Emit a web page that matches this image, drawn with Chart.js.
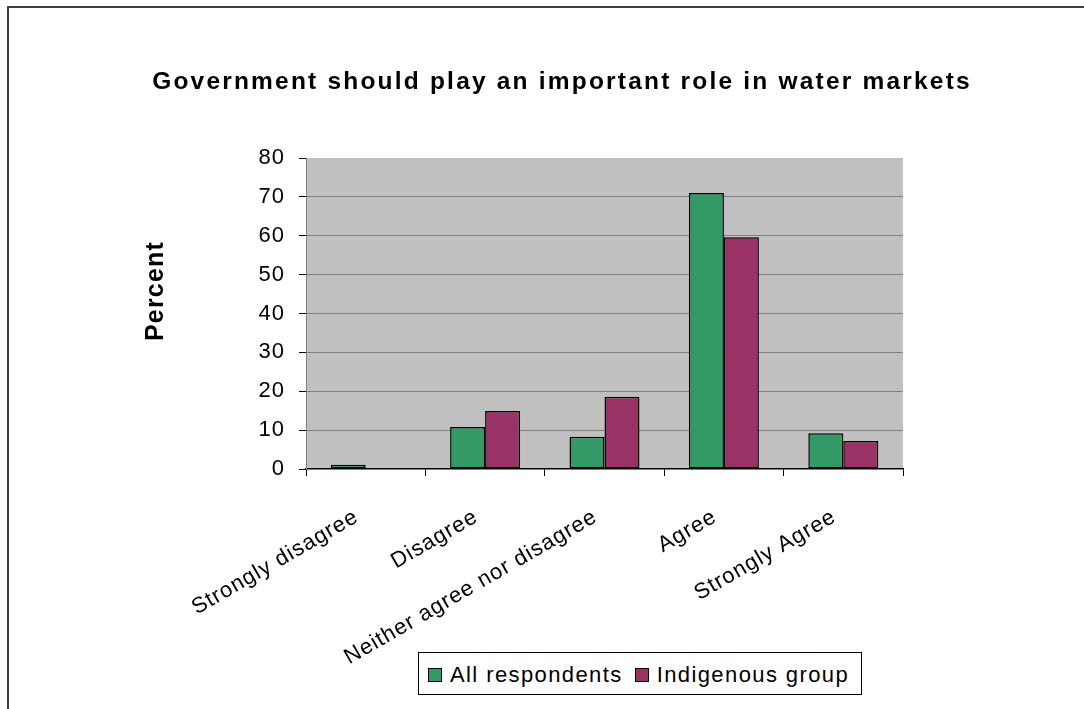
<!DOCTYPE html>
<html>
<head>
<meta charset="utf-8">
<title>Government should play an important role in water markets</title>
<script src="https://cdn.jsdelivr.net/npm/chart.js@4.4.1/dist/chart.umd.min.js"></script>
<style>
  html, body { margin: 0; padding: 0; background: #fff; }
  #wrap { position: relative; width: 1084px; height: 709px; overflow: hidden; }
  #frame { position: absolute; left: 7px; top: 6px; width: 1200px; height: 800px;
           border-left: 2px solid #404040; border-top: 2px solid #404040; }
  #legend { position: absolute; left: 418px; top: 652px; height: 43px; box-sizing: border-box;
            border: 1px solid #000; background: #fff; display: flex; align-items: center;
            padding: 2px 12px 0 9px; font: 22px 'Liberation Sans', Arial, sans-serif;
            letter-spacing: 1.4px; color: #000; white-space: nowrap; }
  #legend .item { display: flex; align-items: center; margin-right: 12px; }
  #legend .item:last-child { margin-right: 0; }
  #legend .sw { width: 12px; height: 12px; border: 1px solid #000; margin-right: 8px; }
</style>
</head>
<body>
<div id="wrap">
  <div id="frame"></div>
  <canvas id="chart"></canvas>
  <div id="legend"></div>
</div>
<script>
  // ---- Data ----
  const categories = ['Strongly disagree', 'Disagree', 'Neither agree nor disagree', 'Agree', 'Strongly Agree'];
  const allRespondents = [1.1, 10.8, 8.3, 71.0, 9.2];
  const indigenousGroup = [0, 14.9, 18.6, 59.6, 7.2];
  const yTicks = [0, 10, 20, 30, 40, 50, 60, 70, 80];
  const seriesNames = ['All respondents', 'Indigenous group'];

  const titleText = 'Government should play an important role in water markets';
  const yTitleText = 'Percent';
  const FONT = "'Liberation Sans', Arial, sans-serif";

  // plot background, letter spacing, titles
  const excelLook = {
    id: 'excelLook',
    beforeLayout(chart) { chart.ctx.letterSpacing = '1px'; },
    beforeDraw(chart) {
      const { ctx, chartArea: a } = chart;
      ctx.letterSpacing = '1px';
      ctx.save();
      ctx.fillStyle = '#C0C0C0';
      ctx.fillRect(a.left, a.top, a.right - a.left, a.bottom - a.top);
      ctx.restore();
    },
    afterDraw(chart) {
      const ctx = chart.ctx;
      ctx.save();
      ctx.fillStyle = '#000';
      ctx.letterSpacing = '2.2px';
      ctx.font = 'bold 24.5px ' + FONT;
      ctx.textAlign = 'center';
      ctx.textBaseline = 'alphabetic';
      ctx.fillText(titleText, 562, 89);
      ctx.restore();

      ctx.save();
      ctx.fillStyle = '#000';
      ctx.letterSpacing = '1.2px';
      ctx.font = 'bold 25px ' + FONT;
      ctx.translate(162.5, 291);
      ctx.rotate(-Math.PI / 2);
      ctx.textAlign = 'center';
      ctx.textBaseline = 'alphabetic';
      ctx.fillText(yTitleText, 0, 0);
      ctx.restore();
    }
  };

  const chart = new Chart(document.getElementById('chart'), {
    type: 'bar',
    data: {
      labels: categories,
      datasets: [
        { label: seriesNames[0], data: allRespondents, backgroundColor: '#339966' },
        { label: seriesNames[1], data: indigenousGroup, backgroundColor: '#993366' }
      ]
    },
    options: {
      responsive: true,
      maintainAspectRatio: false,
      animation: false,
      devicePixelRatio: 1,
      layout: { padding: { left: 137, right: 181, top: 158, bottom: 0 } },
      datasets: {
        bar: {
          borderColor: '#000',
          borderWidth: 1.5,
          borderSkipped: false,
          categoryPercentage: 0.586,
          barPercentage: 1
        }
      },
      plugins: {
        legend: { display: false },
        title: { display: false },
        tooltip: { enabled: false }
      },
      scales: {
        x: {
          afterFit(scale) { scale.height = 240; },
          grid: { drawOnChartArea: false, offset: true, tickLength: 7, tickColor: '#000' },
          border: { color: '#000', width: 1.5 },
          ticks: {
            autoSkip: false,
            minRotation: 30,
            maxRotation: 30,
            padding: 28,
            labelOffset: -9,
            color: '#000',
            font: { family: FONT, size: 22 }
          }
        },
        y: {
          min: 0,
          max: 80,
          afterFit(scale) { scale.width = 169; },
          afterBuildTicks(scale) { scale.ticks = yTicks.map(v => ({ value: v })); },
          grid: {
            color: c => (c.tick && (c.tick.value === 0 || c.tick.value === 80)) ? 'rgba(0,0,0,0)' : '#808080',
            tickLength: 7,
            tickColor: '#000'
          },
          border: { color: '#808080', width: 1 },
          ticks: {
            padding: 14,
            color: '#000',
            font: { family: FONT, size: 22 }
          }
        }
      }
    },
    plugins: [excelLook]
  });

  // ---- Legend (HTML, built from the datasets) ----
  const legendEl = document.getElementById('legend');
  chart.data.datasets.forEach(ds => {
    const item = document.createElement('span');
    item.className = 'item';
    const sw = document.createElement('span');
    sw.className = 'sw';
    sw.style.background = ds.backgroundColor;
    const txt = document.createElement('span');
    txt.textContent = ds.label;
    item.appendChild(sw);
    item.appendChild(txt);
    legendEl.appendChild(item);
  });
</script>
</body>
</html>
